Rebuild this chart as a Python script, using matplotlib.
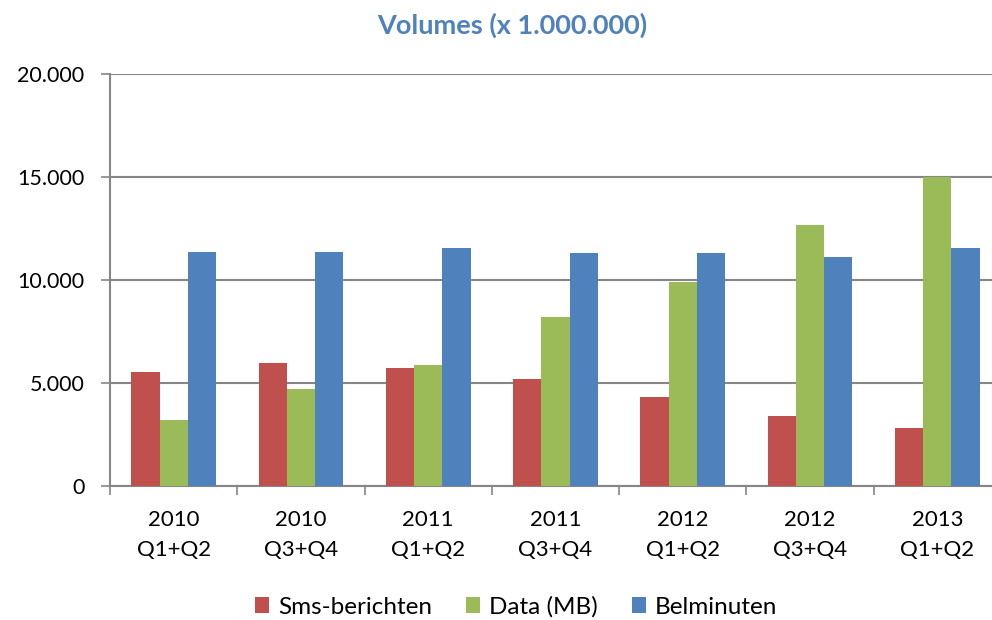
import numpy as np
import matplotlib.pyplot as plt
from matplotlib.patches import Patch

categories = ['2010\nQ1+Q2', '2010\nQ3+Q4', '2011\nQ1+Q2', '2011\nQ3+Q4',
              '2012\nQ1+Q2', '2012\nQ3+Q4', '2013\nQ1+Q2']
sms = [5540, 5980, 5730, 5200, 4340, 3410, 2830]
data_mb = [3200, 4720, 5860, 8200, 9890, 12680, 14990]
belminuten = [11350, 11350, 11530, 11290, 11330, 11120, 11530]
series_names = ['Sms-berichten', 'Data (MB)', 'Belminuten']
colors = ['#C0504D', '#9BBB59', '#4F81BD']

plt.rcParams['font.family'] = ['Lato', 'DejaVu Sans']

fig = plt.figure(figsize=(9.92, 6.2), dpi=100)
ax = fig.add_axes([110 / 992, 1 - 486 / 620, 891 / 992, 412 / 620])

x = np.arange(len(categories))
w = 0.2216
for i, vals in enumerate([sms, data_mb, belminuten]):
    ax.bar(x + (i - 1) * w, vals, width=w, color=colors[i], linewidth=0, zorder=3)

ax.set_xlim(-0.5, len(categories) - 0.5)
ax.set_ylim(0, 20000)
ax.set_yticks(np.arange(0, 20001, 5000))
ax.set_yticklabels(['0', '5.000', '10.000', '15.000', '20.000'], fontsize=15.5)
ax.yaxis.grid(True, color='#868686', linewidth=1.5, zorder=0)

ax.set_xticks(np.arange(-0.5, len(categories), 1))
ax.set_xticklabels([])
ax.set_xticks(x, minor=True)
ax.set_xticklabels(categories, minor=True, fontsize=16, linespacing=1.65)
ax.tick_params(axis='x', which='minor', length=0, pad=17)
ax.tick_params(axis='x', which='major', length=6.5, width=1.2, color='#868686', direction='out')
ax.tick_params(axis='y', length=6.5, width=1.2, color='#868686', pad=12)

for s in ['top', 'right']:
    ax.spines[s].set_visible(False)
for s in ['left', 'bottom']:
    ax.spines[s].set_color('#868686')
    ax.spines[s].set_linewidth(1.5)

fig.text(512 / 992, 1 - 25 / 620, 'Volumes (x 1.000.000)', ha='center', va='center',
         fontsize=19.5, fontweight='bold', color='#4F81BD')

handles = [Patch(facecolor=c, edgecolor='none') for c in colors]
fig.legend(handles, series_names, loc='center', bbox_to_anchor=(516 / 992, 1 - 607 / 620),
           ncol=3, frameon=False, fontsize=17.5, handlelength=0.6, handleheight=0.6,
           handletextpad=0.35, columnspacing=1.4)

fig.savefig('out.png', dpi=100)
